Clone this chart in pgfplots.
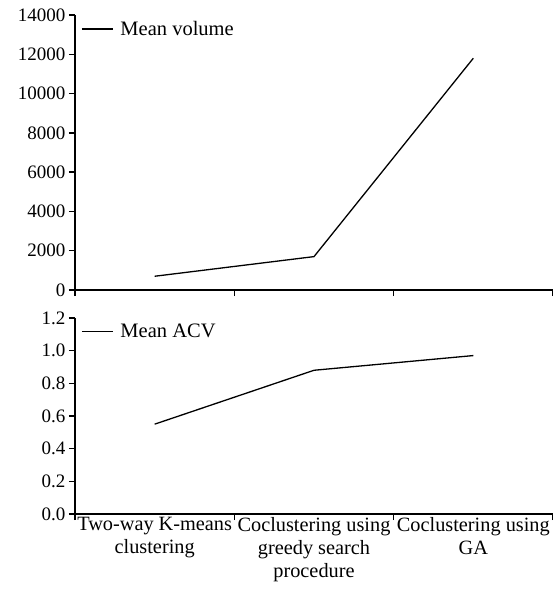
\documentclass[border=0pt]{standalone}
\usepackage{pgfplots}
\pgfplotsset{compat=1.18}
\usepackage{fontspec}
\setmainfont{Liberation Serif}

\pgfplotsset{
  panel/.style={
    scale only axis,
    width=478pt,
    xmin=-0.5, xmax=2.5,
    axis x line*=bottom,
    axis y line*=left,
    every outer x axis line/.append style={-, line width=1.8pt},
    every outer y axis line/.append style={-, line width=1.6pt},
    xtick={-0.5,0.5,1.5,2.5},
    xticklabels={},
    tick align=outside,
    tick style={black, line width=1.5pt},
    major tick length=6pt,
    tick label style={font=\fontsize{19}{23}\selectfont},
    /pgf/number format/assume math mode=true,
    legend style={draw=none, fill=none, at={(0,1)}, anchor=north west,
      xshift=3pt, yshift=-2pt,
      font=\fontsize{20.5}{22}\selectfont, legend cell align=left},
    legend image code/.code={\draw[#1] (0pt,0pt) -- (31pt,0pt); \path (36pt,0pt);},
  }
}

\begin{document}
\begin{tikzpicture}
\useasboundingbox (-75pt,-300pt) rectangle (478pt,290pt);
\begin{axis}[panel,
  name=top,
  at={(0,0)}, anchor=south west,
  height=275pt,
  ymin=0, ymax=14000,
  ytick={0,2000,...,14000},
  scaled y ticks=false,
  yticklabel style={/pgf/number format/1000 sep={}},
]
\addplot[black, line width=1.3pt] coordinates {(0,700) (1,1700) (2,11800)};
\addlegendentry{Mean volume}
\end{axis}

\begin{axis}[panel,
  at={(0,-28pt)}, anchor=north west,
  height=196pt,
  ymin=0, ymax=1.2,
  ytick={0,0.2,...,1.2},
  yticklabel style={/pgf/number format/.cd, fixed, fixed zerofill, precision=1},
  extra x ticks={0,1,2},
  extra x tick labels={{Two-way K-means\\clustering},{Coclustering using\\greedy search\\procedure},{Coclustering using\\GA}},
  extra x tick style={major tick length=0pt, tick style={draw=none},
    xticklabel style={align=center, font=\fontsize{20.3}{23}\selectfont}},
]
\addplot[black, line width=1.3pt] coordinates {(0,0.55) (1,0.88) (2,0.97)};
\addlegendentry{Mean ACV}
\end{axis}
\end{tikzpicture}
\end{document}
